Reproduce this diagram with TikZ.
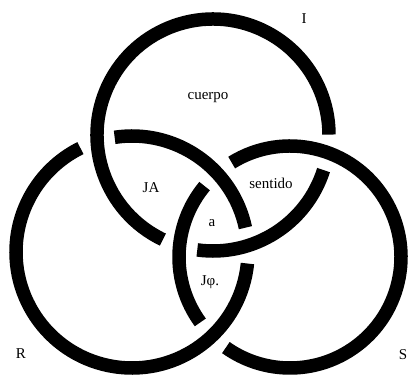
\documentclass[tikz,border=0pt]{standalone}
\usepackage{fontspec}
\setmainfont{Liberation Serif}
\begin{document}
\begin{tikzpicture}[x=1pt,y=1pt,yscale=-1,
  ring/.style={line width=13.5pt, black},
  lbl/.style={font=\fontsize{15}{17}\selectfont, inner sep=0pt}]
\useasboundingbox (0,0) rectangle (410,385);
\coordinate (cI) at (213,135);
\coordinate (cR) at (132,252);
\coordinate (cS) at (290,257);
% ring I
\draw[ring] (cI) ++(17.6:116pt) arc[start angle=17.6, end angle=97.8, radius=116pt];
\draw[ring] (cI) ++(115.6:116pt) arc[start angle=115.6, end angle=359.8, radius=116pt];
% ring R
\draw[ring] (cR) ++(-98.6:116pt) arc[start angle=-98.6, end angle=-12.1, radius=116pt];
\draw[ring] (cR) ++(5.7:116pt) arc[start angle=5.7, end angle=243.6, radius=116pt];
% ring S
\draw[ring] (cS) ++(143.9:111pt) arc[start angle=143.9, end angle=219.7, radius=111pt];
\draw[ring] (cS) ++(238.3:111pt) arc[start angle=238.3, end angle=485.3, radius=111pt];
% labels
\node[lbl] (lI) at (304,19) {I};
\node[lbl] (cuerpo) at (208,98) {cuerpo};
\node[lbl] (JA) at (151,188) {JA};
\node[lbl] (sentido) at (271,183) {sentido};
\node[lbl] (a) at (212,223) {a};
\node[lbl] (Jphi) at (210,282) {Jφ.};
\node[lbl] (lR) at (21,354) {R};
\node[lbl] (lS) at (403,355) {S};
\end{tikzpicture}
\end{document}
